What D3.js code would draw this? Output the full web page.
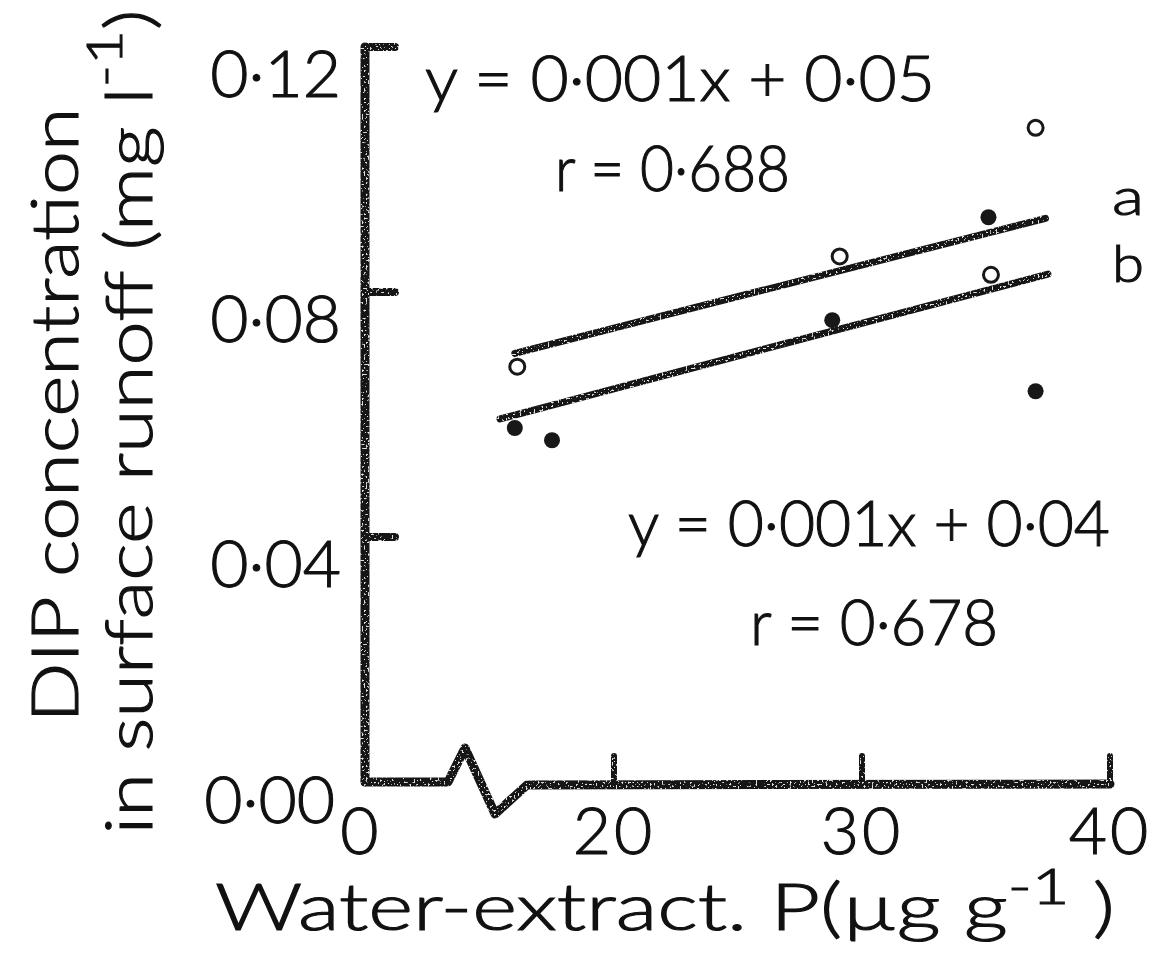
<!DOCTYPE html>
<html>
<head>
<meta charset="utf-8">
<script src="https://cdn.jsdelivr.net/npm/d3@7/dist/d3.min.js"></script>
<style>
  html, body { margin: 0; padding: 0; background: #fff; }
  svg { display: block; }
  text {
    font-family: Lato, "Open Sans", "DejaVu Sans", sans-serif; font-weight: 300;
    fill: #111; stroke: #111; stroke-width: 1.1px;
  }
</style>
</head>
<body>
<svg id="chart" width="1162" height="965"></svg>
<script>
// Axis ticks
const xTickValues = [0, 20, 30, 40];
const yTickValues = [0, 0.04, 0.08, 0.12];

// Observations (water-extractable P, DIP concentration)
const openX   = [16.1, 29.1, 35.2, 37.0];
const openY   = [0.0678, 0.0858, 0.0828, 0.1068];
const filledX = [16.0, 17.5, 28.8, 35.1, 37.0];
const filledY = [0.0578, 0.0558, 0.0754, 0.0922, 0.0638];

// Regression lines a and b
const lineNames      = ["a", "b"];
const lineSlopes     = [0.00103, 0.00107];
const lineIntercepts = [0.0535, 0.0428];
const lineR          = [0.688, 0.678];
const lineXFrom      = [16.0, 15.4];
const lineXTo        = [37.4, 37.5];

const ink = "#181818";
const W = 1162, H = 965;
const svg = d3.select("#chart");

// sparse light specks in the heavy strokes
const grain = svg.append("defs").append("filter")
  .attr("id", "grain").attr("filterUnits", "userSpaceOnUse")
  .attr("x", 0).attr("y", 0).attr("width", W).attr("height", H);
grain.append("feTurbulence").attr("type", "fractalNoise")
  .attr("baseFrequency", 0.5).attr("numOctaves", 2).attr("seed", 7).attr("result", "noise");
grain.append("feColorMatrix").attr("in", "noise").attr("type", "matrix")
  .attr("values", "0 0 0 0 0.75  0 0 0 0 0.75  0 0 0 0 0.75  0 0 0 -12 4.6").attr("result", "specks");
grain.append("feComposite").attr("in", "specks").attr("in2", "SourceGraphic")
  .attr("operator", "in").attr("result", "inkSpecks");
const merge = grain.append("feMerge");
merge.append("feMergeNode").attr("in", "SourceGraphic");
merge.append("feMergeNode").attr("in", "inkSpecks");

// Broken x axis: 0 sits at the corner, the scale proper starts after the break
const xBreak = 12;
const x = d3.scaleLinear().domain([0, 15, 40]).range([365, 490, 1110]);
const y = d3.scaleLinear().domain([0, 0.12]).range([782, 47]);

const dot = s => s.replace(".", "\u00B7");
const fmtY = v => dot(d3.format(".2f")(v));

// ---- axes ----
const x0 = x(0), y0 = y(0);
const bx = x(xBreak);
const axes = svg.append("g").attr("filter", "url(#grain)");

axes.append("path")
  .attr("d", d3.line()([[x0, y(0.12)], [x0, y0]]))
  .attr("fill", "none").attr("stroke", ink).attr("stroke-width", 9)
  .attr("stroke-linecap", "round");

axes.append("path")
  .attr("d", d3.line()([
    [x0, y0], [bx - 17, y0], [bx, y0 - 34], [bx + 30, y0 + 32],
    [bx + 62, y0 + 3], [x(40), y0 + 2]
  ]))
  .attr("fill", "none").attr("stroke", ink).attr("stroke-width", 9)
  .attr("stroke-linejoin", "round").attr("stroke-linecap", "round");

// y ticks point inward; the 0.12 one closes the bracket at the top
axes.append("g").selectAll("line")
  .data(yTickValues.filter(v => v > 0))
  .join("line")
  .attr("x1", x0).attr("x2", x0 + 30)
  .attr("y1", d => y(d)).attr("y2", d => y(d))
  .attr("stroke", ink).attr("stroke-width", 8).attr("stroke-linecap", "round");

axes.append("g").selectAll("line")
  .data(xTickValues.filter(v => v > xBreak))
  .join("line")
  .attr("x1", d => x(d)).attr("x2", d => x(d))
  .attr("y1", y0).attr("y2", y0 - 26)
  .attr("stroke", ink).attr("stroke-width", 6).attr("stroke-linecap", "round");

// tick labels (hand lettering sits a little below each tick)
svg.append("g").selectAll("text")
  .data(yTickValues)
  .join("text")
  .attr("x", d => x0 - (d === 0 ? 30 : 24))
  .attr("y", d => y(d) + (d === 0 ? 17 : 26))
  .attr("dy", "0.36em")
  .attr("text-anchor", "end")
  .attr("font-size", 66)
  .text(fmtY);

svg.append("g").selectAll("text")
  .data(xTickValues)
  .join("text")
  .attr("x", d => x(d) - (d === 0 ? 4 : 0))
  .attr("y", y0 + 72)
  .attr("text-anchor", "middle")
  .attr("font-size", 66)
  .attr("letter-spacing", 3)
  .text(d => d3.format("d")(d));

// ---- regression lines ----
svg.append("g").attr("filter", "url(#grain)").selectAll("line")
  .data(lineNames.map((n, i) => i))
  .join("line")
  .attr("x1", i => x(lineXFrom[i]))
  .attr("y1", i => y(lineSlopes[i] * lineXFrom[i] + lineIntercepts[i]))
  .attr("x2", i => x(lineXTo[i]))
  .attr("y2", i => y(lineSlopes[i] * lineXTo[i] + lineIntercepts[i]))
  .attr("stroke", ink).attr("stroke-width", 7).attr("stroke-linecap", "round");

// ---- points ----
svg.append("g").selectAll("circle")
  .data(openX.map((v, i) => [v, openY[i]]))
  .join("circle")
  .attr("cx", d => x(d[0])).attr("cy", d => y(d[1]))
  .attr("r", 7.5)
  .attr("fill", "#fff").attr("stroke", ink).attr("stroke-width", 3);

svg.append("g").selectAll("circle")
  .data(filledX.map((v, i) => [v, filledY[i]]))
  .join("circle")
  .attr("cx", d => x(d[0])).attr("cy", d => y(d[1]))
  .attr("r", 8)
  .attr("fill", ink);

// ---- equations ----
const eqText = i => "y = " + dot(d3.format(".3f")(lineSlopes[i])) + "x + " +
  dot(d3.format(".2f")(lineIntercepts[i]));
const rText = i => "r = " + dot(d3.format(".3f")(lineR[i]));

const eqPos = [
  { ex: 425, ey: 101, ew: 510, rx: 555, ry: 191, rw: 235 },
  { ex: 628, ey: 546, ew: 482, rx: 750, ry: 645, rw: 248 }
];
eqPos.forEach((p, i) => {
  svg.append("text").attr("x", p.ex).attr("y", p.ey).attr("font-size", 64)
    .attr("textLength", p.ew).attr("lengthAdjust", "spacingAndGlyphs").text(eqText(i));
  svg.append("text").attr("x", p.rx).attr("y", p.ry).attr("font-size", 64)
    .attr("textLength", p.rw).attr("lengthAdjust", "spacingAndGlyphs").text(rText(i));
});

// line tags a / b
svg.append("g").selectAll("text")
  .data(lineNames)
  .join("text")
  .attr("x", 1112)
  .attr("y", (d, i) => 215 + i * 67)
  .attr("font-size", 52)
  .attr("textLength", 32).attr("lengthAdjust", "spacingAndGlyphs")
  .text(d => d);

// ---- axis titles ----
const yTitle = svg.append("g");
yTitle.append("text")
  .attr("transform", "translate(78,415) rotate(-90)")
  .attr("text-anchor", "middle")
  .attr("font-size", 66)
  .attr("textLength", 615).attr("lengthAdjust", "spacingAndGlyphs")
  .text("DIP concentration");

const yt2 = yTitle.append("text")
  .attr("transform", "translate(152,422) rotate(-90)")
  .attr("text-anchor", "middle")
  .attr("font-size", 66)
  .attr("textLength", 825).attr("lengthAdjust", "spacingAndGlyphs");
yt2.append("tspan").text("in surface runoff (mg l");
yt2.append("tspan").attr("dy", -30).attr("font-size", 50).text("-1");
yt2.append("tspan").attr("dy", 30).text(")");

const xt = svg.append("text")
  .attr("x", 665).attr("y", 930)
  .attr("text-anchor", "middle")
  .attr("font-size", 66)
  .attr("textLength", 900).attr("lengthAdjust", "spacingAndGlyphs");
xt.append("tspan").text("Water-extract. P(\u00B5g g");
xt.append("tspan").attr("dy", -26).attr("font-size", 50).text("-1");
xt.append("tspan").attr("dy", 26).text(" )");
</script>
</body>
</html>
